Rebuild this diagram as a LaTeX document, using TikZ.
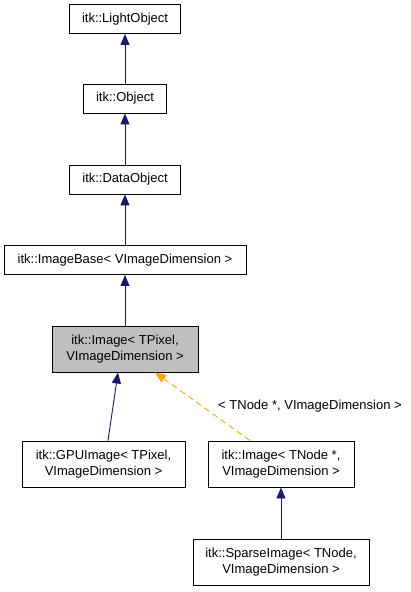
\documentclass[tikz,border=0pt]{standalone}
\usepackage{fontspec}
\setmainfont{Liberation Sans}
\usetikzlibrary{arrows.meta}

\definecolor{edgeblue}{RGB}{25,25,112}
\definecolor{tmplorange}{RGB}{255,165,0}
\definecolor{curgray}{RGB}{191,191,191}

\begin{document}
\begin{tikzpicture}[
    x=1pt, y=-1pt, % pixel-like units, y pointing down
    >={Triangle[length=11pt,width=9pt]}, % doxygen style arrow tip
    cls/.style={draw, line width=0.9pt, inner sep=0pt, align=center,
        font=\fontsize{13}{15.3}\selectfont},
    inherit/.style={<-, edgeblue, line width=0.9pt},
    tmpl/.style={<-, tmplorange, line width=0.9pt, dash pattern=on 6pt off 4pt}
]
    \useasboundingbox (0,0) rectangle (411,592);

    % Class boxes
    \node[cls, minimum width=111pt, minimum height=29pt] (light) at (125,19) {itk::LightObject};
    \node[cls, minimum width=83pt, minimum height=29pt] (object) at (125,98.5) {itk::Object};
    \node[cls, minimum width=111pt, minimum height=29pt] (data) at (125,179.5) {itk::DataObject};
    \node[cls, minimum width=242pt, minimum height=29pt] (base) at (125,260) {itk::ImageBase< VImageDimension >};
    \node[cls, fill=curgray, minimum width=146pt, minimum height=46pt] (img) at (125,349) {itk::Image< TPixel,\\VImageDimension >};
    \node[cls, minimum width=163pt, minimum height=46pt] (gpu) at (103.5,464) {itk::GPUImage< TPixel,\\VImageDimension >};
    \node[cls, minimum width=146pt, minimum height=46pt] (imgt) at (281,464) {itk::Image< TNode *,\\VImageDimension >};
    \node[cls, minimum width=176pt, minimum height=46pt] (sparse) at (281,562) {itk::SparseImage< TNode,\\VImageDimension >};

    % Inheritance edges
    \draw[inherit] (light) -- (object);
    \draw[inherit] (object) -- (data);
    \draw[inherit] (data) -- (base);
    \draw[inherit] (base) -- (img);
    \draw[inherit] ([xshift=-7pt]img.south) -- ([xshift=4.5pt]gpu.north);
    \draw[inherit] (imgt) -- (sparse);

    % Template instantiation
    \draw[tmpl] ([xshift=30pt]img.south) -- ([xshift=-31pt]imgt.north);
    \node[font=\fontsize{13}{15.3}\selectfont, inner sep=0pt] (tlabel) at (310,406) {< TNode *, VImageDimension >};

\end{tikzpicture}
\end{document}
